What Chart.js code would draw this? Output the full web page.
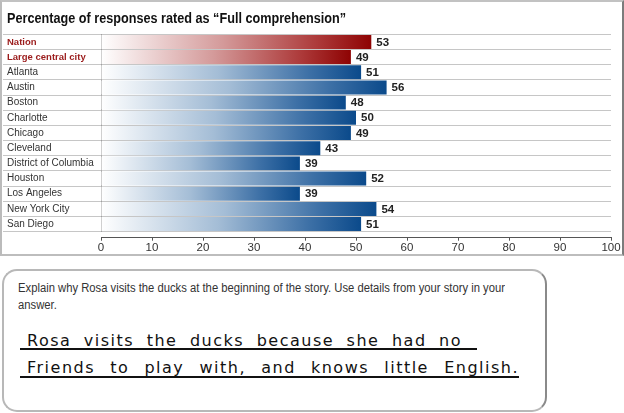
<!DOCTYPE html>
<html>
<head>
<meta charset="utf-8">
<script src="https://cdn.jsdelivr.net/npm/chart.js@4.4.1/dist/chart.umd.min.js"></script>
<style>
html,body{margin:0;padding:0;background:#fff;width:624px;height:413px;overflow:hidden;}
#chartBox{position:absolute;left:0;top:0;width:624px;height:256px;}
#frame{position:absolute;left:0;top:0;width:624px;height:256px;box-sizing:border-box;
  border-top:2px solid #c2c2c2;border-left:2px solid #bbbbbb;border-right:2px solid #7c7c7c;border-bottom:2px solid #bdbdbd;pointer-events:none;}
#title{position:absolute;left:7px;top:8.6px;font-family:"Liberation Sans",Arial,sans-serif;font-weight:bold;
  font-size:15.5px;line-height:18px;color:#111;white-space:nowrap;transform-origin:0 0;}
#qbox{position:absolute;left:2px;top:269px;width:545px;height:143px;box-sizing:border-box;
  border:2px solid #b8b8b8;border-right-color:#8a8a8a;border-radius:15px;}
#q{position:absolute;left:18px;top:280.2px;font-family:"Liberation Sans",Arial,sans-serif;
  font-size:12.5px;line-height:17px;color:#333;white-space:nowrap;transform-origin:0 0;}
.hw{position:absolute;left:27px;font-family:"DejaVu Sans",sans-serif;font-size:16px;line-height:20px;color:#111;
  letter-spacing:1.5px;text-align:justify;text-align-last:justify;}
.ul{position:absolute;left:20px;height:2px;background:#111;}
</style>
</head>
<body>
<div id="chartBox"><canvas id="c"></canvas></div>
<div id="frame"></div>
<div id="title"></div>

<div id="qbox"></div>
<div id="q"><span id="q1">Explain why Rosa visits the ducks at the beginning of the story. Use details from your story in your</span><br>answer.</div>
<div class="hw" style="top:331px;width:435px;">Rosa visits the ducks because she had no</div>
<div class="ul" style="top:347.5px;width:457px;"></div>
<div class="hw" style="top:358px;width:492px;">Friends to play with, and knows little English.</div>
<div class="ul" style="top:375.5px;width:499px;"></div>

<script>
const titleText = 'Percentage of responses rated as \u201cFull comprehension\u201d';
const categories = ['Nation','Large central city','Atlanta','Austin','Boston','Charlotte','Chicago',
  'Cleveland','District of Columbia','Houston','Los Angeles','New York City','San Diego'];
const values = [53,49,51,56,48,50,49,43,39,52,39,54,51];
const highlighted = ['Nation','Large central city'];
const xTicks = [0,10,20,30,40,50,60,70,80,90,100];

const redStops = [[0,'#ffffff'],[0.45,'#d49a9a'],[0.8,'#ad3a3a'],[1,'#8e0303']];
const blueStops = [[0,'#ffffff'],[0.45,'#a4bdd6'],[0.8,'#3d70a6'],[1,'#0b4a8b']];

// condensed-look text: scale real text horizontally to the reference widths
const titleEl = document.getElementById('title');
titleEl.textContent = titleText;
titleEl.style.transform = 'scaleX(' + (339 / titleEl.getBoundingClientRect().width) + ')';
const q1 = document.getElementById('q1');
document.getElementById('q').style.transform = 'scaleX(' + (487 / q1.getBoundingClientRect().width) + ')';

const valueLabels = {
  id:'valueLabels',
  afterDatasetsDraw(chart){
    const ctx = chart.ctx;
    const meta = chart.getDatasetMeta(0);
    ctx.save();
    ctx.font = 'bold 11.5px "Liberation Sans", Arial, sans-serif';
    ctx.fillStyle = '#222';
    ctx.textBaseline = 'middle';
    ctx.textAlign = 'left';
    meta.data.forEach((bar,i)=>{ ctx.fillText(String(values[i]), bar.x + 5, bar.y + 0.5); });
    ctx.restore();
  }
};

new Chart(document.getElementById('c'), {
  type:'bar',
  data:{
    labels: categories,
    datasets:[{
      data: values,
      xAxisID:'x', yAxisID:'y',
      borderWidth:0,
      barPercentage:0.92,
      categoryPercentage:1.0,
      backgroundColor(ctx){
        const chart = ctx.chart;
        if (!chart.chartArea || ctx.raw == null) return '#5a7fa8';
        const xs = chart.scales.x;
        const x0 = xs.getPixelForValue(0), x1 = xs.getPixelForValue(ctx.raw);
        const g = chart.ctx.createLinearGradient(x0,0,x1,0);
        const stops = highlighted.includes(categories[ctx.dataIndex]) ? redStops : blueStops;
        stops.forEach(s=>g.addColorStop(s[0],s[1]));
        return g;
      }
    }]
  },
  options:{
    indexAxis:'y',
    responsive:true,
    maintainAspectRatio:false,
    animation:false,
    layout:{padding:{left:7,right:13,top:34.3,bottom:1.5}},
    plugins:{
      legend:{display:false},
      tooltip:{enabled:false},
      title:{display:false}
    },
    scales:{
      x:{
        type:'linear', position:'bottom', weight:1, min:0, max:100,
        afterBuildTicks(s){ s.ticks = xTicks.map(v=>({value:v})); },
        ticks:{padding:0, color:'#333', font:{family:'"Liberation Sans", Arial, sans-serif', size:11.5}},
        grid:{drawOnChartArea:false, drawTicks:true, tickLength:3, color:'#555', tickColor:'#555'},
        border:{display:true, color:'#555', width:1}
      },
      gap:{
        type:'linear', position:'bottom', weight:0, display:true,
        grid:{display:false, drawTicks:false}, border:{display:false}, ticks:{display:false},
        afterFit(s){ s.height = 6; }
      },
      y:{
        type:'category', position:'left', offset:true,
        grid:{offset:true, color:'#c6c6c6', tickColor:'#c6c6c6', lineWidth:1, tickLength:98},
        border:{display:true, color:'#a0a0a0', width:1},
        ticks:{
          crossAlign:'far', padding:0,
          color(c){ return highlighted.includes(categories[c.index]) ? '#9b1b1b' : '#333'; },
          font(c){ return highlighted.includes(categories[c.index])
            ? {family:'"Liberation Sans", Arial, sans-serif', size:9.5, weight:'bold'}
            : {family:'"Liberation Sans", Arial, sans-serif', size:10, weight:'normal'}; }
        },
        afterFit(s){ s.width = 94; }
      }
    }
  },
  plugins:[valueLabels]
});
</script>
</body>
</html>
